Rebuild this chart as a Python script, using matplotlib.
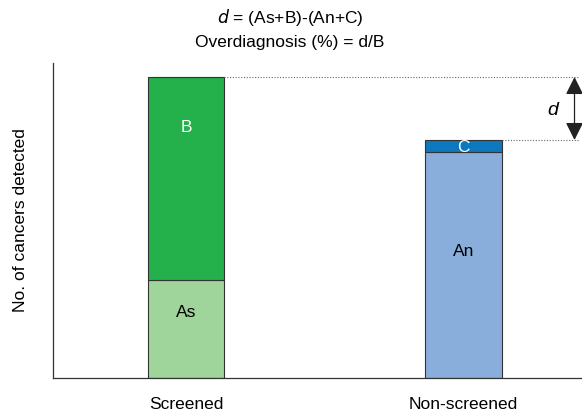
import matplotlib
matplotlib.use("Agg")
import matplotlib.pyplot as plt

plt.rcParams["font.family"] = ["Liberation Sans", "DejaVu Sans"]

categories = ["Screened", "Non-screened"]
lower_labels = ["As", "An"]
upper_labels = ["B", "C"]
lower_values = [98, 226]
upper_values = [203, 12]
lower_colors = ["#9fd49b", "#8aaedc"]
upper_colors = ["#24b04b", "#0b78c0"]
upper_text_colors = ["white", "white"]

fig = plt.figure(figsize=(5.82, 4.13), dpi=100)
ax = fig.add_axes([53/582, 1-378/413, 529/582, (378-63)/413])
pos = [0, 1]
w = 0.274
ax.bar(pos, lower_values, width=w, color=lower_colors, edgecolor="#333333", linewidth=0.8)
ax.bar(pos, upper_values, width=w, bottom=lower_values, color=upper_colors, edgecolor="#333333", linewidth=0.8)

for i in range(2):
    ax.text(pos[i], lower_values[i]*0.67 if i == 0 else lower_values[i]*0.56, lower_labels[i],
            ha="center", va="center", fontsize=12.5, color="black")
    ax.text(pos[i], lower_values[i] + upper_values[i]/2 + (51 if i == 0 else -1), upper_labels[i],
            ha="center", va="center", fontsize=12.5, color=upper_text_colors[i])

ax.set_xlim(-0.479, 1.427)
ax.set_ylim(0, 315)
tops = [lower_values[i] + upper_values[i] for i in range(2)]
ax.plot([pos[0] + w/2, 1.415], [tops[0], tops[0]], linestyle=(0, (1, 1.5)), color="#666666", linewidth=0.8)
ax.plot([pos[1] + w/2, 1.415], [tops[1], tops[1]], linestyle=(0, (1, 1.5)), color="#666666", linewidth=0.8)
ax.annotate("", xy=(1.4, tops[0]), xytext=(1.4, tops[1]),
            arrowprops=dict(arrowstyle="<|-|>,head_length=0.6,head_width=0.3", color="#222222", lw=0.9,
                            mutation_scale=18, shrinkA=0, shrinkB=0))
ax.text(1.32, (tops[0] + tops[1]) / 2 - 2, "d", style="italic", fontsize=14, ha="center", va="center")

ax.set_xticks(pos)
ax.set_xticklabels(categories, fontsize=12.5)
ax.tick_params(axis="x", length=0, pad=14)
ax.set_yticks([])
ax.set_ylabel("No. of cancers detected", fontsize=12.5, labelpad=18)
for s in ["top", "right"]:
    ax.spines[s].set_visible(False)
for s in ["left", "bottom"]:
    ax.spines[s].set_color("#333333")
    ax.spines[s].set_linewidth(0.9)

fig.text(290/582, 1-18/413, "$\\it{d}$ = (As+B)-(An+C)", ha="center", va="center", fontsize=12.5)
fig.text(290/582, 1-42/413, "Overdiagnosis (%) = d/B", ha="center", va="center", fontsize=12.5)

fig.savefig("out.png", dpi=100)
